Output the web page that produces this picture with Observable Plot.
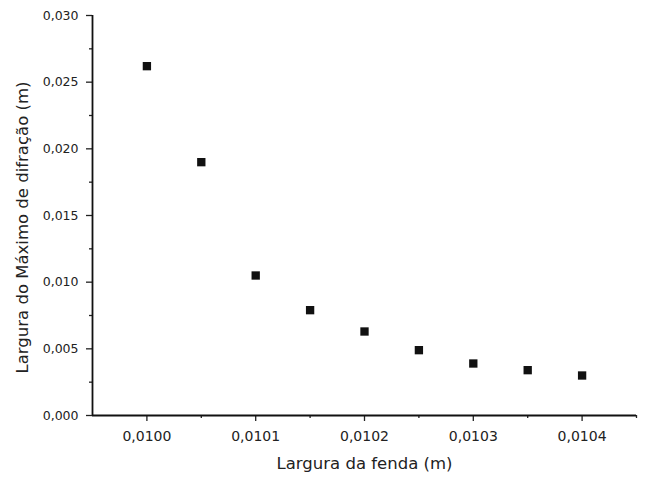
<!DOCTYPE html>
<html><head><meta charset="utf-8">
<script src="https://cdn.jsdelivr.net/npm/d3@7"></script>
<script src="https://cdn.jsdelivr.net/npm/@observablehq/plot@0.6"></script>
<style>body{margin:0;background:#fff}</style>
</head><body><div id="chart"></div>
<script>
const slitWidth = [0.01000, 0.01005, 0.01010, 0.01015, 0.01020, 0.01025, 0.01030, 0.01035, 0.01040];
const maxWidth = [0.0262, 0.0190, 0.0105, 0.0079, 0.0063, 0.0049, 0.0039, 0.0034, 0.0030];
const xTicks = [0.0100, 0.0101, 0.0102, 0.0103, 0.0104];
const xMinorTicks = [0.01005, 0.01015, 0.01025, 0.01035, 0.01045];
const yTicks = [0, 0.005, 0.010, 0.015, 0.020, 0.025, 0.030];
const yMinorTicks = [0.0025, 0.0075, 0.0125, 0.0175, 0.0225, 0.0275];
const xTitle = "Largura da fenda (m)";
const yTitle = "Largura do Máximo de difração (m)";

const data = slitWidth.map((x, i) => ({x, y: maxWidth[i]}));
const comma = f => v => d3.format(f)(v).replace(".", ",");

const chart = Plot.plot({
  width: 645, height: 480,
  marginLeft: 92, marginRight: 9, marginTop: 15, marginBottom: 65,
  style: {fontFamily: "DejaVu Sans", color: "#222", background: "#fff"},
  x: {domain: [0.00995, 0.01045]},
  y: {domain: [0, 0.030]},
  marks: [
    Plot.axisX(xTicks, {tickSize: 6, tickPadding: 10, tickFormat: comma(".4f"), fontSize: 14, label: null, strokeWidth: 1.3}),
    Plot.axisX(xMinorTicks, {tickSize: 3, tickFormat: () => "", label: null, strokeWidth: 1.3}),
    Plot.axisY(yTicks, {tickSize: 6, tickPadding: 8, tickFormat: comma(".3f"), fontSize: 12.5, label: null, strokeWidth: 1.3}),
    Plot.axisY(yMinorTicks, {tickSize: 3, tickFormat: () => "", label: null, strokeWidth: 1.3}),
    Plot.ruleY([0], {stroke: "#111", strokeWidth: 1.8}),
    Plot.ruleX([0.00995], {stroke: "#111", strokeWidth: 1.8}),
    Plot.dot(data, {x: "x", y: "y", symbol: "square", r: 4.7, fill: "#111", stroke: "none"}),
    Plot.text([xTitle], {text: d => d, frameAnchor: "bottom", dy: 53, fontSize: 16.5, fill: "#222"}),
    Plot.text([yTitle], {text: d => d, frameAnchor: "left", textAnchor: "middle", dx: -70, dy: 12, rotate: -90, fontSize: 16.5, fill: "#222"})
  ]
});
document.getElementById("chart").append(chart);
</script>
</body></html>
